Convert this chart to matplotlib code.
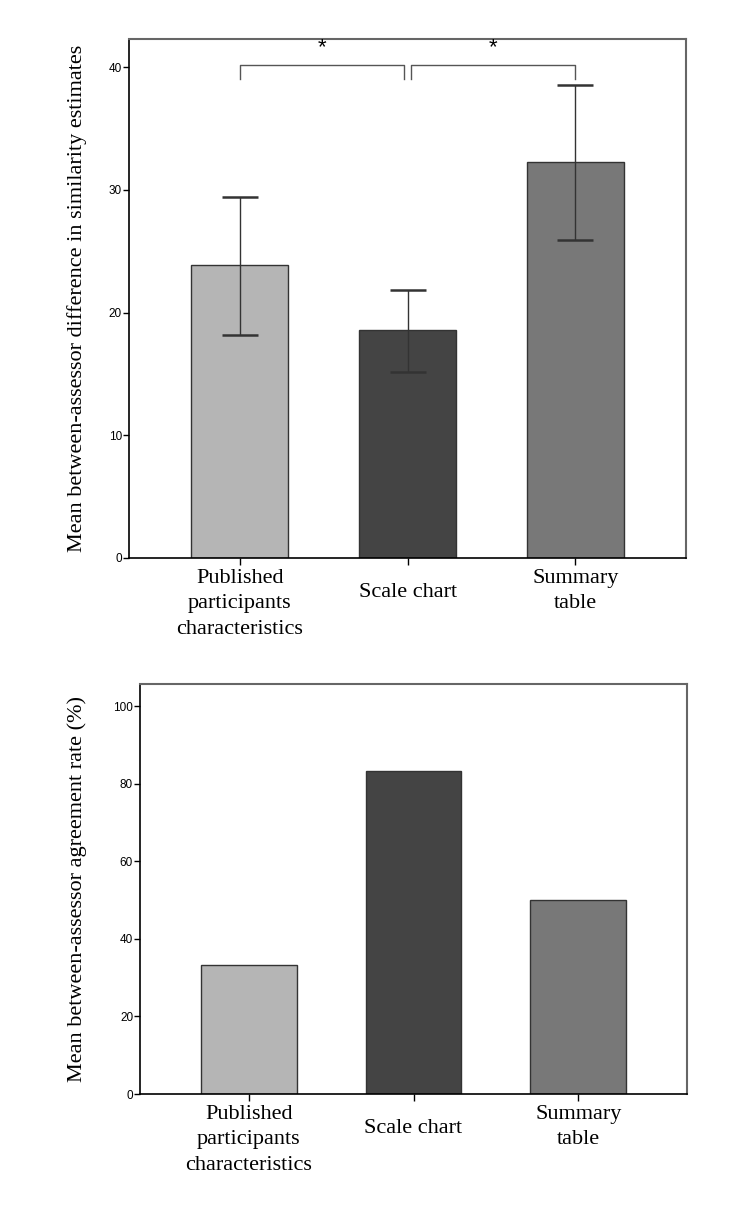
import matplotlib
matplotlib.use("Agg")
from matplotlib import pyplot as plt

categories = ["Published\nparticipants\ncharacteristics", "Scale chart", "Summary\ntable"]
colors = ["#b5b5b5", "#444444", "#787878"]

# top panel: mean difference with error bars
diff_means = [23.85, 18.55, 32.25]
diff_low = [18.2, 15.15, 25.9]
diff_high = [29.45, 21.85, 38.55]
diff_ticks = [0, 10, 20, 30, 40]

# significance brackets (left, right, height)
brackets = [(0.0, 0.98, 40.2), (1.02, 2.0, 40.2)]

# bottom panel: agreement rate
agree_rates = [33.3, 83.3, 50.0]
agree_ticks = [0, 20, 40, 60, 80, 100]

serif = ["Liberation Serif", "DejaVu Serif"]
narrow = ["Liberation Sans Narrow", "Liberation Sans", "DejaVu Sans"]

fig = plt.figure(figsize=(7.5, 12.09), dpi=100)
ax1 = fig.add_axes([0.172, 0.5385, 0.743, 0.4292])
ax2 = fig.add_axes([0.1867, 0.0951, 0.7293, 0.3391])

x = list(range(len(categories)))


def style_axes(ax, ticks, ylim, ylabel):
    ax.set_xlim(-0.66, 2.66)
    ax.set_ylim(*ylim)
    ax.set_yticks(ticks)
    ax.set_yticklabels([str(t) for t in ticks], family=narrow, fontsize=8.5)
    ax.set_xticks(x)
    ax.set_xticklabels(categories, family=serif, fontsize=16, linespacing=1.45, va="top")
    ax.tick_params(axis="y", direction="out", length=4, width=1, pad=1)
    ax.tick_params(axis="x", direction="out", length=5, width=1, pad=3)
    ax.xaxis.get_major_ticks()[1].set_pad(13)
    for side in ["top", "right"]:
        ax.spines[side].set_color("#666666")
        ax.spines[side].set_linewidth(1.5)
    for side in ["left", "bottom"]:
        ax.spines[side].set_color("black")
        ax.spines[side].set_linewidth(1.2)
    ax.set_ylabel(ylabel, family=serif, fontsize=16)


ax1.bar(x, diff_means, width=0.58, color=colors, edgecolor="#333333", linewidth=1, zorder=2)
yerr = [[m - lo for m, lo in zip(diff_means, diff_low)],
        [hi - m for m, hi in zip(diff_means, diff_high)]]
ax1.errorbar(x, diff_means, yerr=yerr, fmt="none", ecolor="#333333", elinewidth=1,
             capsize=13, capthick=1.8, zorder=3)
for x0, x1, h in brackets:
    ax1.plot([x0, x0, x1, x1], [h - 1.15, h, h, h - 1.15], color="#555555", lw=1)
    ax1.text((x0 + x1) / 2, h + 0.55, "*", ha="center", va="bottom", fontsize=16,
             family=narrow)
style_axes(ax1, diff_ticks, (0, 42.3), "Mean between-assessor difference in similarity estimates")
ax1.yaxis.set_label_coords(-0.075, 0.5)

ax2.bar(x, agree_rates, width=0.58, color=colors, edgecolor="#333333", linewidth=1, zorder=2)
style_axes(ax2, agree_ticks, (0, 105.7), "Mean between-assessor agreement rate (%)")
ax2.yaxis.set_label_coords(-0.097, 0.5)

fig.savefig("out.png", dpi=100)
